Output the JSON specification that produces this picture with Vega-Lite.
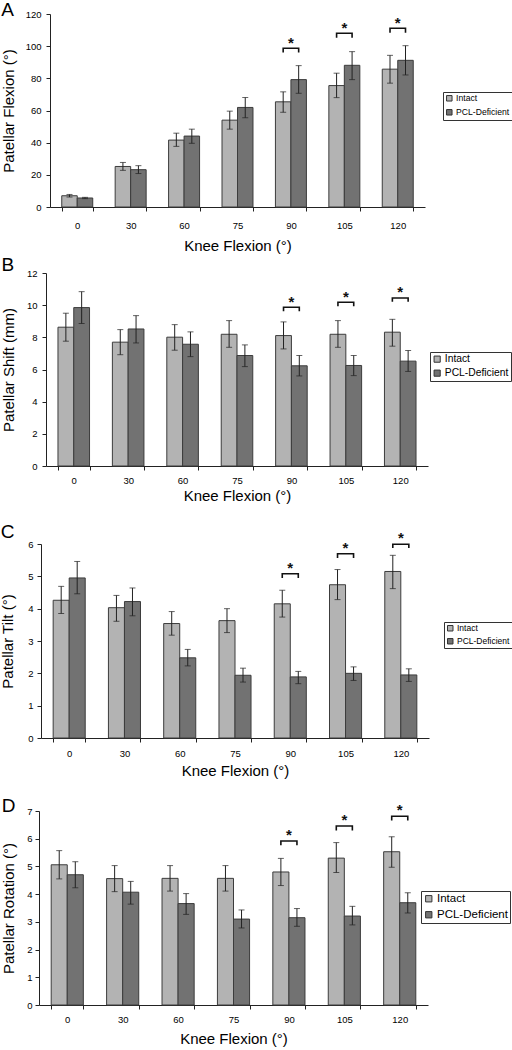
{
  "$schema": "https://vega.github.io/schema/vega-lite/v6.json",
  "padding": {"left": 0, "top": 1, "right": 0, "bottom": 0},
  "background": "white",
  "config": {
    "font": "Liberation Sans",
    "view": {"stroke": null},
    "axis": {"labelFont": "Liberation Sans", "titleFont": "Liberation Sans", "labelColor": "#000", "titleColor": "#000", "domainColor": "#222", "tickColor": "#222", "grid": false, "titleFontWeight": "normal", "labelFontSize": 9.5, "titleFontSize": 15, "tickSize": 4, "labelOverlap": false},
    "axisY": {"tickCount": 12, "format": "d"},
    "legend": {"orient": "none", "strokeColor": "#333", "padding": 2, "labelOffset": 2.5, "symbolType": "square", "symbolStrokeColor": "#333", "symbolStrokeWidth": 1, "labelFont": "Liberation Sans", "labelColor": "#000", "rowPadding": 3, "title": null},
    "title": {"font": "Liberation Sans", "fontWeight": "normal", "fontSize": 19, "anchor": "start", "frame": "bounds", "color": "#000", "baseline": "alphabetic"}
  },
  "datasets": {
    "barsA": [
      {"angle": 0, "group": "Intact", "value": 7.0, "lo": 6.2, "hi": 7.8},
      {"angle": 0, "group": "PCL-Deficient", "value": 5.6, "lo": 5.2, "hi": 6.0},
      {"angle": 30, "group": "Intact", "value": 25.2, "lo": 22.8, "hi": 27.7},
      {"angle": 30, "group": "PCL-Deficient", "value": 23.2, "lo": 20.8, "hi": 25.7},
      {"angle": 60, "group": "Intact", "value": 41.6, "lo": 37.7, "hi": 45.9},
      {"angle": 60, "group": "PCL-Deficient", "value": 44.1, "lo": 39.6, "hi": 48.4},
      {"angle": 75, "group": "Intact", "value": 54.0, "lo": 48.4, "hi": 59.6},
      {"angle": 75, "group": "PCL-Deficient", "value": 61.9, "lo": 55.5, "hi": 68.1},
      {"angle": 90, "group": "Intact", "value": 65.4, "lo": 58.9, "hi": 71.6},
      {"angle": 90, "group": "PCL-Deficient", "value": 79.2, "lo": 70.7, "hi": 87.9},
      {"angle": 105, "group": "Intact", "value": 75.5, "lo": 68.0, "hi": 83.2},
      {"angle": 105, "group": "PCL-Deficient", "value": 88.1, "lo": 79.2, "hi": 96.6},
      {"angle": 120, "group": "Intact", "value": 85.7, "lo": 77.0, "hi": 94.3},
      {"angle": 120, "group": "PCL-Deficient", "value": 91.2, "lo": 82.1, "hi": 100.3}
    ],
    "brA": [
      {"angle": 90, "group": "Intact", "y": 96.0, "seq": 1},
      {"angle": 90, "group": "Intact", "y": 98.7, "seq": 2},
      {"angle": 90, "group": "PCL-Deficient", "y": 98.7, "seq": 3},
      {"angle": 90, "group": "PCL-Deficient", "y": 96.0, "seq": 4},
      {"angle": 105, "group": "Intact", "y": 105.3, "seq": 1},
      {"angle": 105, "group": "Intact", "y": 108.0, "seq": 2},
      {"angle": 105, "group": "PCL-Deficient", "y": 108.0, "seq": 3},
      {"angle": 105, "group": "PCL-Deficient", "y": 105.3, "seq": 4},
      {"angle": 120, "group": "Intact", "y": 108.4, "seq": 1},
      {"angle": 120, "group": "Intact", "y": 111.1, "seq": 2},
      {"angle": 120, "group": "PCL-Deficient", "y": 111.1, "seq": 3},
      {"angle": 120, "group": "PCL-Deficient", "y": 108.4, "seq": 4}
    ],
    "stA": [
      {"angle": 90, "y": 107.0},
      {"angle": 105, "y": 116.0},
      {"angle": 120, "y": 119.4}
    ],
    "barsB": [
      {"angle": 0, "group": "Intact", "value": 8.63, "lo": 7.76, "hi": 9.5},
      {"angle": 0, "group": "PCL-Deficient", "value": 9.85, "lo": 8.86, "hi": 10.84},
      {"angle": 30, "group": "Intact", "value": 7.7, "lo": 6.92, "hi": 8.48},
      {"angle": 30, "group": "PCL-Deficient", "value": 8.52, "lo": 7.65, "hi": 9.35},
      {"angle": 60, "group": "Intact", "value": 8.01, "lo": 7.2, "hi": 8.79},
      {"angle": 60, "group": "PCL-Deficient", "value": 7.57, "lo": 6.8, "hi": 8.34},
      {"angle": 75, "group": "Intact", "value": 8.19, "lo": 7.38, "hi": 9.04},
      {"angle": 75, "group": "PCL-Deficient", "value": 6.87, "lo": 6.18, "hi": 7.53},
      {"angle": 90, "group": "Intact", "value": 8.11, "lo": 7.28, "hi": 8.96},
      {"angle": 90, "group": "PCL-Deficient", "value": 6.23, "lo": 5.6, "hi": 6.87},
      {"angle": 105, "group": "Intact", "value": 8.19, "lo": 7.38, "hi": 9.04},
      {"angle": 105, "group": "PCL-Deficient", "value": 6.25, "lo": 5.62, "hi": 6.87},
      {"angle": 120, "group": "Intact", "value": 8.32, "lo": 7.45, "hi": 9.12},
      {"angle": 120, "group": "PCL-Deficient", "value": 6.52, "lo": 5.88, "hi": 7.18}
    ],
    "brB": [
      {"angle": 90, "group": "Intact", "y": 9.62, "seq": 1},
      {"angle": 90, "group": "Intact", "y": 9.87, "seq": 2},
      {"angle": 90, "group": "PCL-Deficient", "y": 9.87, "seq": 3},
      {"angle": 90, "group": "PCL-Deficient", "y": 9.62, "seq": 4},
      {"angle": 105, "group": "Intact", "y": 9.93, "seq": 1},
      {"angle": 105, "group": "Intact", "y": 10.18, "seq": 2},
      {"angle": 105, "group": "PCL-Deficient", "y": 10.18, "seq": 3},
      {"angle": 105, "group": "PCL-Deficient", "y": 9.93, "seq": 4},
      {"angle": 120, "group": "Intact", "y": 10.22, "seq": 1},
      {"angle": 120, "group": "Intact", "y": 10.45, "seq": 2},
      {"angle": 120, "group": "PCL-Deficient", "y": 10.45, "seq": 3},
      {"angle": 120, "group": "PCL-Deficient", "y": 10.22, "seq": 4}
    ],
    "stB": [
      {"angle": 90, "y": 10.7},
      {"angle": 105, "y": 11.0},
      {"angle": 120, "y": 11.3}
    ],
    "barsC": [
      {"angle": 0, "group": "Intact", "value": 4.26, "lo": 3.85, "hi": 4.69},
      {"angle": 0, "group": "PCL-Deficient", "value": 4.95, "lo": 4.46, "hi": 5.46},
      {"angle": 30, "group": "Intact", "value": 4.03, "lo": 3.61, "hi": 4.41},
      {"angle": 30, "group": "PCL-Deficient", "value": 4.22, "lo": 3.78, "hi": 4.64},
      {"angle": 60, "group": "Intact", "value": 3.54, "lo": 3.18, "hi": 3.91},
      {"angle": 60, "group": "PCL-Deficient", "value": 2.48, "lo": 2.23, "hi": 2.74},
      {"angle": 75, "group": "Intact", "value": 3.63, "lo": 3.26, "hi": 4.0},
      {"angle": 75, "group": "PCL-Deficient", "value": 1.94, "lo": 1.73, "hi": 2.16},
      {"angle": 90, "group": "Intact", "value": 4.15, "lo": 3.74, "hi": 4.57},
      {"angle": 90, "group": "PCL-Deficient", "value": 1.89, "lo": 1.68, "hi": 2.06},
      {"angle": 105, "group": "Intact", "value": 4.74, "lo": 4.28, "hi": 5.21},
      {"angle": 105, "group": "PCL-Deficient", "value": 2.0, "lo": 1.78, "hi": 2.2},
      {"angle": 120, "group": "Intact", "value": 5.15, "lo": 4.62, "hi": 5.65},
      {"angle": 120, "group": "PCL-Deficient", "value": 1.95, "lo": 1.75, "hi": 2.14}
    ],
    "brC": [
      {"angle": 90, "group": "Intact", "y": 4.95, "seq": 1},
      {"angle": 90, "group": "Intact", "y": 5.08, "seq": 2},
      {"angle": 90, "group": "PCL-Deficient", "y": 5.08, "seq": 3},
      {"angle": 90, "group": "PCL-Deficient", "y": 4.95, "seq": 4},
      {"angle": 105, "group": "Intact", "y": 5.57, "seq": 1},
      {"angle": 105, "group": "Intact", "y": 5.7, "seq": 2},
      {"angle": 105, "group": "PCL-Deficient", "y": 5.7, "seq": 3},
      {"angle": 105, "group": "PCL-Deficient", "y": 5.57, "seq": 4},
      {"angle": 120, "group": "Intact", "y": 5.88, "seq": 1},
      {"angle": 120, "group": "Intact", "y": 5.99, "seq": 2},
      {"angle": 120, "group": "PCL-Deficient", "y": 5.99, "seq": 3},
      {"angle": 120, "group": "PCL-Deficient", "y": 5.88, "seq": 4}
    ],
    "stC": [
      {"angle": 90, "y": 5.49},
      {"angle": 105, "y": 6.11},
      {"angle": 120, "y": 6.42}
    ],
    "barsD": [
      {"angle": 0, "group": "Intact", "value": 5.06, "lo": 4.55, "hi": 5.57},
      {"angle": 0, "group": "PCL-Deficient", "value": 4.7, "lo": 4.23, "hi": 5.17},
      {"angle": 30, "group": "Intact", "value": 4.56, "lo": 4.09, "hi": 5.03},
      {"angle": 30, "group": "PCL-Deficient", "value": 4.07, "lo": 3.64, "hi": 4.46},
      {"angle": 60, "group": "Intact", "value": 4.57, "lo": 4.11, "hi": 5.03},
      {"angle": 60, "group": "PCL-Deficient", "value": 3.66, "lo": 3.27, "hi": 4.02},
      {"angle": 75, "group": "Intact", "value": 4.57, "lo": 4.11, "hi": 5.03},
      {"angle": 75, "group": "PCL-Deficient", "value": 3.1, "lo": 2.78, "hi": 3.43},
      {"angle": 90, "group": "Intact", "value": 4.8, "lo": 4.31, "hi": 5.29},
      {"angle": 90, "group": "PCL-Deficient", "value": 3.15, "lo": 2.84, "hi": 3.48},
      {"angle": 105, "group": "Intact", "value": 5.3, "lo": 4.78, "hi": 5.86},
      {"angle": 105, "group": "PCL-Deficient", "value": 3.21, "lo": 2.89, "hi": 3.56},
      {"angle": 120, "group": "Intact", "value": 5.53, "lo": 4.97, "hi": 6.07},
      {"angle": 120, "group": "PCL-Deficient", "value": 3.69, "lo": 3.32, "hi": 4.05}
    ],
    "brD": [
      {"angle": 90, "group": "Intact", "y": 5.76, "seq": 1},
      {"angle": 90, "group": "Intact", "y": 5.92, "seq": 2},
      {"angle": 90, "group": "PCL-Deficient", "y": 5.92, "seq": 3},
      {"angle": 90, "group": "PCL-Deficient", "y": 5.76, "seq": 4},
      {"angle": 105, "group": "Intact", "y": 6.3, "seq": 1},
      {"angle": 105, "group": "Intact", "y": 6.46, "seq": 2},
      {"angle": 105, "group": "PCL-Deficient", "y": 6.46, "seq": 3},
      {"angle": 105, "group": "PCL-Deficient", "y": 6.3, "seq": 4},
      {"angle": 120, "group": "Intact", "y": 6.66, "seq": 1},
      {"angle": 120, "group": "Intact", "y": 6.81, "seq": 2},
      {"angle": 120, "group": "PCL-Deficient", "y": 6.81, "seq": 3},
      {"angle": 120, "group": "PCL-Deficient", "y": 6.66, "seq": 4}
    ],
    "stD": [
      {"angle": 90, "y": 6.41},
      {"angle": 105, "y": 6.95},
      {"angle": 120, "y": 7.31}
    ]
  },
  "spacing": 19,
  "resolve": {"scale": {"fill": "independent", "xOffset": "independent"}, "legend": {"fill": "independent"}},
  "vconcat": [
    {
      "spacing": 2,
      "resolve": {"scale": {"fill": "independent", "xOffset": "independent"}, "legend": {"fill": "independent"}},
      "vconcat": [
        {
          "title": {"text": "A", "offset": -11},
          "width": 375, "height": 193,
          "encoding": {
            "x": {"field": "angle", "type": "ordinal", "scale": {"paddingInner": 0.42, "paddingOuter": 0.22}, "axis": {"title": "Knee Flexion (°)", "labelAngle": 0, "tickBand": "extent", "labelPadding": 9, "titlePadding": 9}}
          },
          "layer": [
            {"data": {"name": "barsA"}, "mark": {"type": "bar", "stroke": "#3c3c3c", "strokeWidth": 1},
             "encoding": {
               "xOffset": {"field": "group", "type": "nominal", "scale": {"paddingInner": 0, "paddingOuter": 0}},
               "y": {"field": "value", "type": "quantitative", "scale": {"domain": [0, 120], "nice": false}, "axis": {"title": "Patellar Flexion (°)", "values": [0, 20, 40, 60, 80, 100, 120], "tickCount": 12, "format": "d", "labelPadding": 5, "titlePadding": 9}},
               "fill": {"field": "group", "type": "nominal", "scale": {"domain": ["Intact", "PCL-Deficient"], "range": ["#b3b3b3", "#727272"]}, "legend": {"legendX": 393, "legendY": 78, "labelFontSize": 8.6, "symbolSize": 30}}
             }},
            {"data": {"name": "barsA"}, "mark": {"type": "rule", "color": "#222", "strokeWidth": 1},
             "encoding": {"xOffset": {"field": "group", "type": "nominal"}, "y": {"field": "lo", "type": "quantitative"}, "y2": {"field": "hi"}}},
            {"data": {"name": "barsA"}, "mark": {"type": "tick", "color": "#222", "size": 6, "thickness": 1},
             "encoding": {"xOffset": {"field": "group", "type": "nominal"}, "y": {"field": "hi", "type": "quantitative"}}},
            {"data": {"name": "barsA"}, "mark": {"type": "tick", "color": "#222", "size": 6, "thickness": 1},
             "encoding": {"xOffset": {"field": "group", "type": "nominal"}, "y": {"field": "lo", "type": "quantitative"}}},
            {"data": {"name": "brA"}, "mark": {"type": "line", "color": "#111", "strokeWidth": 1.6},
             "encoding": {"xOffset": {"field": "group", "type": "nominal"}, "y": {"field": "y", "type": "quantitative"}, "detail": {"field": "angle"}, "order": {"field": "seq"}}},
            {"data": {"name": "stA"}, "mark": {"type": "text", "text": "*", "fontSize": 15, "fontWeight": "bold", "dy": 8, "color": "#111"},
             "encoding": {"y": {"field": "y", "type": "quantitative"}}}
          ]
        },
        {
          "title": {"text": "B", "offset": -7},
          "width": 378, "height": 193,
          "encoding": {
            "x": {"field": "angle", "type": "ordinal", "scale": {"range": [-4, 378], "paddingInner": 0.42, "paddingOuter": 0.22}, "axis": {"title": "Knee Flexion (°)", "labelAngle": 0, "tickBand": "extent", "labelPadding": 5, "titlePadding": 4}}
          },
          "layer": [
            {"data": {"name": "barsB"}, "mark": {"type": "bar", "stroke": "#3c3c3c", "strokeWidth": 1},
             "encoding": {
               "xOffset": {"field": "group", "type": "nominal", "scale": {"paddingInner": 0, "paddingOuter": 0}},
               "y": {"field": "value", "type": "quantitative", "scale": {"domain": [0, 12], "nice": false}, "axis": {"title": "Patellar Shift (mm)", "values": [0, 2, 4, 6, 8, 10, 12], "tickCount": 12, "format": "d", "offset": 4, "labelPadding": 5, "titlePadding": 10}},
               "fill": {"field": "group", "type": "nominal", "scale": {"domain": ["Intact", "PCL-Deficient"], "range": ["#b3b3b3", "#727272"]}, "legend": {"legendX": 380, "legendY": 79, "labelFontSize": 10.3, "symbolSize": 38}}
             }},
            {"data": {"name": "barsB"}, "mark": {"type": "rule", "color": "#222", "strokeWidth": 1},
             "encoding": {"xOffset": {"field": "group", "type": "nominal"}, "y": {"field": "lo", "type": "quantitative"}, "y2": {"field": "hi"}}},
            {"data": {"name": "barsB"}, "mark": {"type": "tick", "color": "#222", "size": 6, "thickness": 1},
             "encoding": {"xOffset": {"field": "group", "type": "nominal"}, "y": {"field": "hi", "type": "quantitative"}}},
            {"data": {"name": "barsB"}, "mark": {"type": "tick", "color": "#222", "size": 6, "thickness": 1},
             "encoding": {"xOffset": {"field": "group", "type": "nominal"}, "y": {"field": "lo", "type": "quantitative"}}},
            {"data": {"name": "brB"}, "mark": {"type": "line", "color": "#111", "strokeWidth": 1.6},
             "encoding": {"xOffset": {"field": "group", "type": "nominal"}, "y": {"field": "y", "type": "quantitative"}, "detail": {"field": "angle"}, "order": {"field": "seq"}}},
            {"data": {"name": "stB"}, "mark": {"type": "text", "text": "*", "fontSize": 15, "fontWeight": "bold", "dy": 8, "color": "#111"},
             "encoding": {"y": {"field": "y", "type": "quantitative"}}}
          ]
        }
      ]
    },
    {
      "spacing": 18,
      "resolve": {"scale": {"fill": "independent", "xOffset": "independent"}, "legend": {"fill": "independent"}},
      "vconcat": [
        {
          "title": {"text": "C", "offset": -11},
          "width": 379, "height": 194,
          "encoding": {
            "x": {"field": "angle", "type": "ordinal", "scale": {"range": [-9, 379], "paddingInner": 0.42, "paddingOuter": 0.22}, "axis": {"title": "Knee Flexion (°)", "labelAngle": 0, "tickBand": "extent", "labelPadding": 6, "titlePadding": 6}}
          },
          "layer": [
            {"data": {"name": "barsC"}, "mark": {"type": "bar", "stroke": "#3c3c3c", "strokeWidth": 1},
             "encoding": {
               "xOffset": {"field": "group", "type": "nominal", "scale": {"paddingInner": 0, "paddingOuter": 0}},
               "y": {"field": "value", "type": "quantitative", "scale": {"domain": [0, 6], "nice": false}, "axis": {"title": "Patellar Tilt (°)", "values": [0, 1, 2, 3, 4, 5, 6], "tickCount": 12, "format": "d", "offset": 9, "labelPadding": 4, "titlePadding": 12}},
               "fill": {"field": "group", "type": "nominal", "scale": {"domain": ["Intact", "PCL-Deficient"], "range": ["#b3b3b3", "#727272"]}, "legend": {"legendX": 394, "legendY": 78, "labelFontSize": 8.5, "symbolSize": 30}}
             }},
            {"data": {"name": "barsC"}, "mark": {"type": "rule", "color": "#222", "strokeWidth": 1},
             "encoding": {"xOffset": {"field": "group", "type": "nominal"}, "y": {"field": "lo", "type": "quantitative"}, "y2": {"field": "hi"}}},
            {"data": {"name": "barsC"}, "mark": {"type": "tick", "color": "#222", "size": 6, "thickness": 1},
             "encoding": {"xOffset": {"field": "group", "type": "nominal"}, "y": {"field": "hi", "type": "quantitative"}}},
            {"data": {"name": "barsC"}, "mark": {"type": "tick", "color": "#222", "size": 6, "thickness": 1},
             "encoding": {"xOffset": {"field": "group", "type": "nominal"}, "y": {"field": "lo", "type": "quantitative"}}},
            {"data": {"name": "brC"}, "mark": {"type": "line", "color": "#111", "strokeWidth": 1.6},
             "encoding": {"xOffset": {"field": "group", "type": "nominal"}, "y": {"field": "y", "type": "quantitative"}, "detail": {"field": "angle"}, "order": {"field": "seq"}}},
            {"data": {"name": "stC"}, "mark": {"type": "text", "text": "*", "fontSize": 15, "fontWeight": "bold", "dy": 8, "color": "#111"},
             "encoding": {"y": {"field": "y", "type": "quantitative"}}}
          ]
        },
        {
          "title": {"text": "D", "offset": -13},
          "width": 378, "height": 194,
          "encoding": {
            "x": {"field": "angle", "type": "ordinal", "scale": {"range": [-11, 378], "paddingInner": 0.42, "paddingOuter": 0.22}, "axis": {"title": "Knee Flexion (°)", "labelAngle": 0, "tickBand": "extent", "labelPadding": 5, "titlePadding": 8}}
          },
          "layer": [
            {"data": {"name": "barsD"}, "mark": {"type": "bar", "stroke": "#3c3c3c", "strokeWidth": 1},
             "encoding": {
               "xOffset": {"field": "group", "type": "nominal", "scale": {"paddingInner": 0, "paddingOuter": 0}},
               "y": {"field": "value", "type": "quantitative", "scale": {"domain": [0, 7], "nice": false}, "axis": {"title": "Patellar Rotation (°)", "values": [0, 1, 2, 3, 4, 5, 6, 7], "tickCount": 12, "format": "d", "offset": 11, "labelPadding": 3, "titlePadding": 10}},
               "fill": {"field": "group", "type": "nominal", "scale": {"domain": ["Intact", "PCL-Deficient"], "range": ["#b3b3b3", "#727272"]}, "legend": {"legendX": 371, "legendY": 80, "labelFontSize": 11.5, "symbolSize": 40}}
             }},
            {"data": {"name": "barsD"}, "mark": {"type": "rule", "color": "#222", "strokeWidth": 1},
             "encoding": {"xOffset": {"field": "group", "type": "nominal"}, "y": {"field": "lo", "type": "quantitative"}, "y2": {"field": "hi"}}},
            {"data": {"name": "barsD"}, "mark": {"type": "tick", "color": "#222", "size": 6, "thickness": 1},
             "encoding": {"xOffset": {"field": "group", "type": "nominal"}, "y": {"field": "hi", "type": "quantitative"}}},
            {"data": {"name": "barsD"}, "mark": {"type": "tick", "color": "#222", "size": 6, "thickness": 1},
             "encoding": {"xOffset": {"field": "group", "type": "nominal"}, "y": {"field": "lo", "type": "quantitative"}}},
            {"data": {"name": "brD"}, "mark": {"type": "line", "color": "#111", "strokeWidth": 1.6},
             "encoding": {"xOffset": {"field": "group", "type": "nominal"}, "y": {"field": "y", "type": "quantitative"}, "detail": {"field": "angle"}, "order": {"field": "seq"}}},
            {"data": {"name": "stD"}, "mark": {"type": "text", "text": "*", "fontSize": 15, "fontWeight": "bold", "dy": 8, "color": "#111"},
             "encoding": {"y": {"field": "y", "type": "quantitative"}}}
          ]
        }
      ]
    }
  ]
}
